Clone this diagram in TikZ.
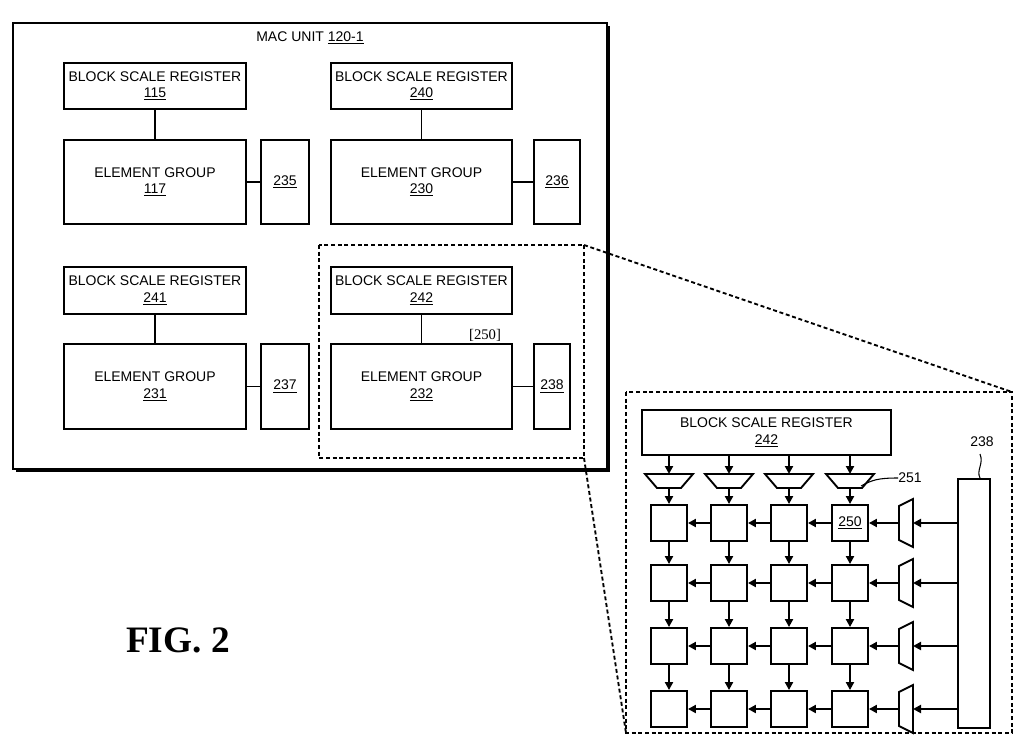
\documentclass[tikz,border=0pt]{standalone}
\usepackage{fontspec}
\setmainfont{Liberation Sans}
\newfontfamily\serifff{Liberation Serif}
\usetikzlibrary{arrows.meta}
\begin{document}
\begin{tikzpicture}[x=0.75pt,y=-0.75pt,
  bx/.style={draw,line width=1.4pt},
  lbl/.style={font=\fontsize{10.5}{12.5}\selectfont,align=center,inner sep=0pt},
  ar/.style={-{Triangle[length=6pt,width=6pt]},line width=1.6pt},
  ln/.style={line width=1.4pt},
  dsh/.style={dashed,line width=1.4pt,dash pattern=on 3pt off 2pt}]
\useasboundingbox (0,0) rectangle (1024,756);
% MAC unit
\fill (16,26) rectangle (610,472);
\node[bx,fill=white,minimum width=594*0.75pt,minimum height=446*0.75pt,anchor=north west] (mac) at (12,22) {};
\node[lbl] (mact) at (310,38) {MAC UNIT \underline{120-1}};
\newcommand{\bxat}[6]{\node[bx,anchor=north west,minimum width=#4*0.75pt,minimum height=#5*0.75pt,lbl] (#1) at (#2,#3) {#6};}
\bxat{b115}{63}{62}{182}{46}{BLOCK SCALE REGISTER\\\underline{115}}
\bxat{e117}{63}{139}{182}{84}{ELEMENT GROUP\\\underline{117}}
\bxat{r235}{260}{139}{48}{84}{\underline{235}}
\bxat{b240}{330}{62}{181}{46}{BLOCK SCALE REGISTER\\\underline{240}}
\bxat{e230}{330}{139}{181}{84}{ELEMENT GROUP\\\underline{230}}
\bxat{r236}{533}{139}{46}{84}{\underline{236}}
\bxat{b241}{63}{266}{182}{47}{BLOCK SCALE REGISTER\\\underline{241}}
\bxat{e231}{63}{343}{182}{85}{ELEMENT GROUP\\\underline{231}}
\bxat{r237}{260}{343}{48}{85}{\underline{237}}
\bxat{b242}{330}{266}{181}{47}{BLOCK SCALE REGISTER\\\underline{242}}
\bxat{e232}{330}{343}{181}{85}{ELEMENT GROUP\\\underline{232}}
\bxat{r238}{533}{343}{36}{85}{\underline{238}}
\foreach \a/\b in {b115/e117,b240/e230,b241/e231,b242/e232} \draw[ln] (\a) -- (\b);
\foreach \a/\b in {e117/r235,e230/r236,e231/r237,e232/r238} \draw[ln] (\a) -- (\b);
\node[font=\serifff\fontsize{11}{12}\selectfont,inner sep=0pt] (t250a) at (485,335) {[250]};
% dashed zoom
\draw[dsh] (319,245) coordinate (d1) rectangle (584,458) coordinate (d2);
\coordinate (d3) at (584,245);
\draw[dsh] (626,392) rectangle (1012,733);
\coordinate (z1) at (1012,392); \coordinate (z2) at (626,733);
\draw[dsh] (d3) -- (z1);
\draw[dsh] (584,458) -- (z2);
% detail
\bxat{zb}{641}{409}{249}{45}{BLOCK SCALE REGISTER\\\underline{242}}
\bxat{t238}{957}{478}{32}{249}{}
\node[lbl] (l238) at (982,442) {238};
\draw[line width=0.8pt] (980,478) .. controls (976,470) and (984,464) .. (980,454);
\foreach \c/\x in {1/669,2/729,3/789,4/850}{
  \draw[line width=1.4pt] (\x-24,474) -- (\x+24,474) -- (\x+12,488) -- (\x-12,488) -- cycle;
  \coordinate (mt\c) at (\x,474); \coordinate (mb\c) at (\x,488);
  \draw[ar] (zb.south -| mt\c) -- (mt\c);
}
\node[lbl] (l251) at (910,478) {251};
\draw[line width=0.8pt] (861,486) .. controls (872,480) and (878,478) .. (l251.west);
\foreach \r/\y in {1/523,2/583,3/646,4/709}{
  \foreach \c/\x in {1/669,2/729,3/789,4/850}{
    \node[bx,minimum width=27pt,minimum height=27pt,lbl] (c\r\c) at (\x,\y) {\ifnum\r\c=11\relax\else\fi};
  }
  \draw[line width=1.4pt] (899,\y-17) -- (913,\y-24) -- (913,\y+24) -- (899,\y+17) -- cycle;
  \coordinate (mr\r) at (913,\y); \coordinate (ml\r) at (899,\y);
  \draw[ar] (t238.west |- mr\r) -- (mr\r);
  \draw[ar] (ml\r) -- (c\r4);
  \draw[ar] (c\r4) -- (c\r3); \draw[ar] (c\r3) -- (c\r2); \draw[ar] (c\r2) -- (c\r1);
}
\node[lbl] at (c14) {\underline{250}};
\foreach \c in {1,2,3,4}{
  \draw[ar] (mb\c) -- (c1\c);
  \draw[ar] (c1\c) -- (c2\c); \draw[ar] (c2\c) -- (c3\c); \draw[ar] (c3\c) -- (c4\c);
}
\node[font=\serifff\bfseries\fontsize{28}{30}\selectfont,inner sep=0pt] (fig) at (178,640) {FIG. 2};
\end{tikzpicture}
\end{document}
